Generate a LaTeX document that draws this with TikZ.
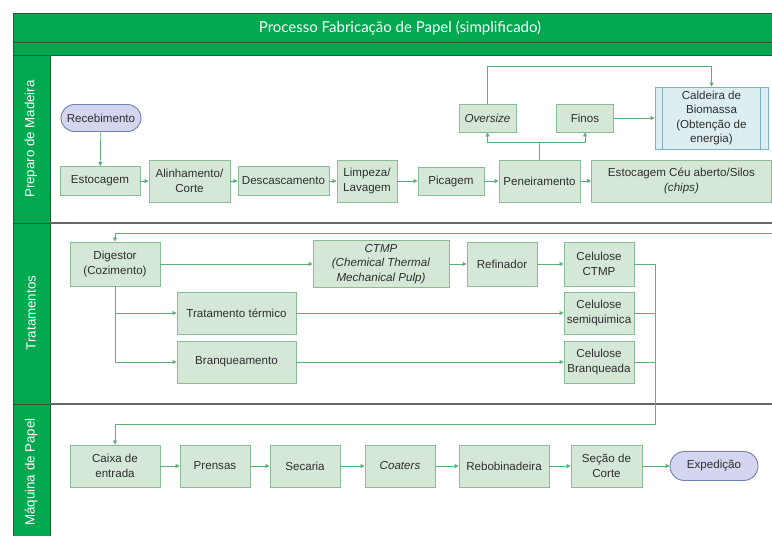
\documentclass[tikz,border=0pt]{standalone}
\usepackage{fontspec}
\setmainfont{Liberation Sans}
\newfontfamily\titlefont{Lato}
\usetikzlibrary{arrows.meta,shapes.misc}
\definecolor{laneg}{HTML}{00A94F}
\definecolor{laneborder}{HTML}{1E5E36}
\definecolor{boxfill}{HTML}{D5E8D7}
\definecolor{boxdraw}{HTML}{88BD97}
\definecolor{conn}{HTML}{5DAE78}
\definecolor{termfill}{HTML}{D3D6EE}
\definecolor{termdraw}{HTML}{7080B5}
\definecolor{caldfill}{HTML}{DDEEF2}
\definecolor{calddraw}{HTML}{82B0C0}
\definecolor{sepgray}{HTML}{666666}
\definecolor{txt}{HTML}{2E2E2E}
\tikzset{
  pbox/.style={draw=boxdraw, fill=boxfill, line width=0.9pt, inner sep=1pt, align=center,
    text=txt, font=\fontsize{11.6}{14.5}\selectfont},
  term/.style={rounded rectangle, draw=termdraw, fill=termfill, line width=0.9pt, inner sep=1pt,
    text=txt, font=\fontsize{11.6}{14.5}\selectfont},
  cald/.style={draw=calddraw, fill=caldfill, line width=0.9pt, inner sep=1pt, align=center,
    text=txt, font=\fontsize{11.6}{14.5}\selectfont},
  conn/.style={draw=conn, line width=0.8pt},
  arr/.style={conn, -{Triangle[length=4pt,width=4pt]}},
  lanelbl/.style={rotate=90, text=white, font=\fontsize{13.3}{15}\selectfont},
}
\begin{document}
\begin{tikzpicture}[x=1pt,y=-1pt]
\useasboundingbox (0,0) rectangle (772,536);
\clip (0,0) rectangle (772,536);
\fill[white] (0,0) rectangle (772,536);
% frame
\fill[laneg] (13,13) rectangle (800,55);
\fill[laneg] (13,55) rectangle (50,600);
\draw[laneborder, line width=0.8pt] (800,13) -- (13,13) -- (13,600);
\draw[laneborder, line width=0.8pt] (13,42) -- (800,42);
\draw[laneborder, line width=0.8pt] (13,55) -- (800,55);
\draw[laneborder, line width=0.8pt] (50,55) -- (50,600);
\draw[laneborder, line width=0.8pt] (13,223) -- (50,223);
\draw[laneborder, line width=0.8pt] (13,404) -- (50,404);
\draw[sepgray, line width=1.3pt] (50,223) -- (800,223);
\draw[sepgray, line width=1.3pt] (50,404) -- (800,404);
\node[text=white, font=\titlefont\fontsize{15}{17}\selectfont] (title) at (400,28) {Processo Fabricação de Papel (simplificado)};
\node[lanelbl] (l1) at (31,139) {Preparo de Madeira};
\node[lanelbl] (l2) at (31,313) {Tratamentos};
\node[lanelbl] (l3) at (31,472) {Máquina de Papel};

% lane 1
\node[term, minimum width=82pt, minimum height=27pt] (receb) at (101,118) {Recebimento};
\node[pbox, minimum width=80pt, minimum height=29pt] (estoc) at (100,181) {Estocagem};
\node[pbox, minimum width=81pt, minimum height=42pt] (alin) at (189.5,181) {Alinhamento/\\Corte};
\node[pbox, minimum width=91pt, minimum height=29pt] (desc) at (283.5,181) {Descascamento};
\node[pbox, minimum width=60pt, minimum height=42pt] (limp) at (367,181) {Limpeza/\\Lavagem};
\node[pbox, minimum width=66pt, minimum height=28pt] (pic) at (451,181) {Picagem};
\node[pbox, minimum width=81pt, minimum height=42pt] (pen) at (539.5,181) {Peneiramento};
\node[pbox, minimum width=180pt, minimum height=42pt] (ceu) at (681.5,181) {Estocagem Céu aberto/Silos\\\textit{(chips)}};
\node[pbox, minimum width=57pt, minimum height=28pt] (over) at (487.5,118) {\textit{Oversize}};
\node[pbox, minimum width=57pt, minimum height=28pt] (finos) at (585,118) {Finos};
\node[cald, minimum width=113pt, minimum height=62pt] (cald) at (711.5,118) {Caldeira de\\Biomassa\\(Obtenção de\\energia)};
\draw[calddraw, line width=0.9pt] ([xshift=8pt]cald.north west) -- ([xshift=8pt]cald.south west);
\draw[calddraw, line width=0.9pt] ([xshift=-8pt]cald.north east) -- ([xshift=-8pt]cald.south east);

\draw[arr] (receb) -- (estoc);
\draw[arr] (estoc) -- (alin);
\draw[arr] (alin) -- (desc);
\draw[arr] (desc) -- (limp);
\draw[arr] (limp) -- (pic);
\draw[arr] (pic) -- (pen);
\draw[arr] (pen) -- (ceu);
\coordinate (pj) at (539.5,142);
\draw[conn] (pen.north) -- (pj);
\draw[arr] (pj) -| (over.south);
\draw[arr] (pj) -| (finos.south);
\coordinate (ot) at (487.5,66);
\draw[arr] (over.north) -- (ot) -| (cald.north);
\draw[arr] (finos) -- (cald);

% lane 2
\node[pbox, minimum width=90pt, minimum height=44pt] (dig) at (115,264) {Digestor\\(Cozimento)};
\node[pbox, minimum width=136pt, minimum height=47pt] (ctmp) at (381,264) {\textit{CTMP}\\\textit{(Chemical Thermal}\\\textit{Mechanical Pulp)}};
\node[pbox, minimum width=70pt, minimum height=44pt] (ref) at (502,264) {Refinador};
\node[pbox, minimum width=70pt, minimum height=44pt] (cctmp) at (599,264) {Celulose\\CTMP};
\node[pbox, minimum width=70pt, minimum height=42pt] (csemi) at (599,313) {Celulose\\semiquimica};
\node[pbox, minimum width=70pt, minimum height=42pt] (cbranq) at (599,362) {Celulose\\Branqueada};
\node[pbox, minimum width=119pt, minimum height=42pt] (trat) at (236.5,313) {Tratamento térmico};
\node[pbox, minimum width=119pt, minimum height=42pt] (branq) at (236.5,362) {Branqueamento};

\coordinate (r1) at (790,181);
\coordinate (r2) at (790,233);
\draw[arr] (ceu.east) -- (r1) -- (r2) -| (dig.north);
\draw[arr] (dig) -- (ctmp);
\draw[arr] (ctmp) -- (ref);
\draw[arr] (ref) -- (cctmp);
\draw[arr] (dig.south) |- (trat.west);
\draw[arr] (dig.south) |- (branq.west);
\draw[arr] (trat) -- (csemi);
\draw[arr] (branq) -- (cbranq);

% lane 3
\node[pbox, minimum width=90pt, minimum height=42pt] (caixa) at (115,466) {Caixa de\\entrada};
\node[pbox, minimum width=70pt, minimum height=42pt] (prens) at (215,466) {Prensas};
\node[pbox, minimum width=70pt, minimum height=42pt] (sec) at (305,466) {Secaria};
\node[pbox, minimum width=70pt, minimum height=42pt] (coat) at (400,466) {\textit{Coaters}};
\node[pbox, minimum width=90pt, minimum height=42pt] (rebob) at (504,466) {Rebobinadeira};
\node[pbox, minimum width=71pt, minimum height=42pt] (secao) at (606.5,466) {Seção de\\Corte};
\node[term, minimum width=90pt, minimum height=29pt] (exped) at (714,466) {Expedição};

\coordinate (v1) at (655,264);
\coordinate (v2) at (655,424);
\draw[conn] (cctmp.east) -- (v1);
\draw[conn] (csemi.east) -- (csemi.east -| v1);
\draw[conn] (cbranq.east) -- (cbranq.east -| v1);
\draw[arr] (v1) -- (v2) -| (caixa.north);
\draw[arr] (caixa) -- (prens);
\draw[arr] (prens) -- (sec);
\draw[arr] (sec) -- (coat);
\draw[arr] (coat) -- (rebob);
\draw[arr] (rebob) -- (secao);
\draw[arr] (secao) -- (exped);
\end{tikzpicture}
\end{document}
